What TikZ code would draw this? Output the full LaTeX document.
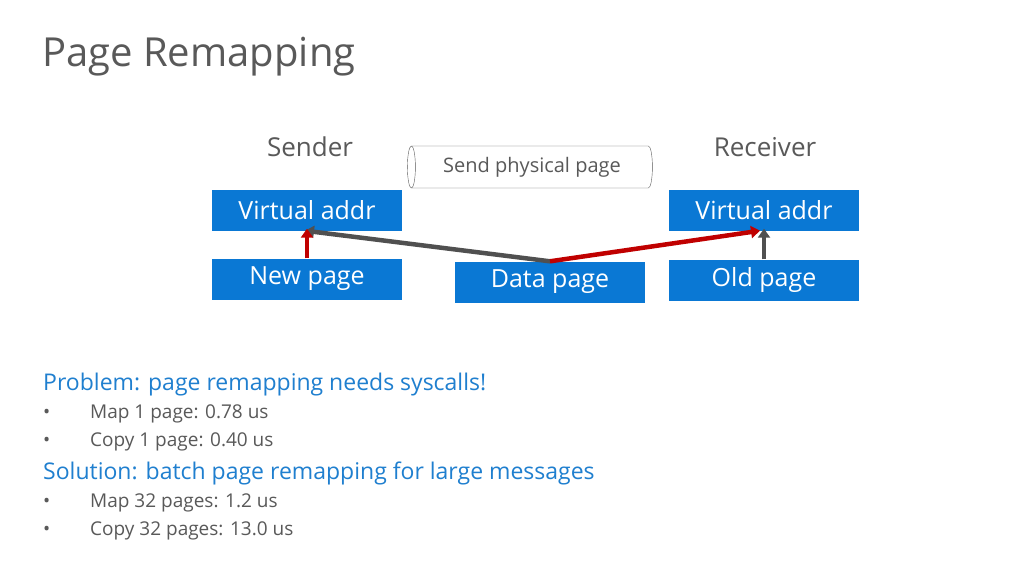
\documentclass[tikz,border=0pt]{standalone}
\usepackage{fontspec}
\setmainfont{Open Sans}
\usetikzlibrary{shapes.geometric,arrows.meta}
\definecolor{boxblue}{HTML}{0A78D4}
\definecolor{txtgray}{HTML}{595959}
\definecolor{arrgray}{HTML}{505050}
\definecolor{arrred}{HTML}{C00000}
\definecolor{hdblue}{HTML}{1F7FCF}
\begin{document}
\begin{tikzpicture}[x=1pt,y=-1pt,
  bbox/.style={fill=boxblue,text=white,minimum width=190pt,minimum height=41pt,inner sep=0pt,font=\fontsize{25}{28}\selectfont},
  arr/.style={line width=4.5pt,-{Triangle[length=9pt,width=12pt]}},
  hd/.style={anchor=west,text=hdblue,font=\fontsize{23}{26}\selectfont,inner sep=0pt},
  bl/.style={anchor=west,text=txtgray,font=\fontsize{19}{22}\selectfont,inner sep=0pt}]
\useasboundingbox[fill=white] (0,0) rectangle (1024,576);
\node[anchor=west,text=txtgray,font=\fontsize{40}{44}\selectfont,inner sep=0pt] (title) at (42,57) {Page Remapping};
\node[text=txtgray,font=\fontsize{26}{30}\selectfont] (snd) at (310,147) {Sender};
\node[text=txtgray,font=\fontsize{26}{30}\selectfont] (rcv) at (765,147) {Receiver};
\node[cylinder,shape border rotate=180,draw=txtgray,minimum width=42pt,minimum height=245pt,aspect=0.4,inner sep=0pt,text=txtgray,font=\fontsize{20}{24}\selectfont] (cyl) at (532,167) {Send physical page};
\node[bbox] (va1) at (307,210) {Virtual addr};
\node[bbox] (np) at (307,279) {New page};
\node[bbox] (dp) at (550,282) {Data page};
\node[bbox] (va2) at (764,210) {Virtual addr};
\node[bbox] (op) at (764,280) {Old page};
\draw[arr,arrgray] (dp.north) -- ([xshift=-2pt]va1.south);
\draw[arr,arrred] (np.north) -- ([yshift=2pt]va1.south);
\draw[arr,arrred] (dp.north) -- ([xshift=-4pt]va2.south);
\draw[arr,arrgray] (op.north) -- ([yshift=2pt]va2.south);
\node[hd] (p1) at (43,385) {Problem: page remapping needs syscalls!};
\node[bl] (b1) at (43,414) {•}; \node[bl] (t1) at (90,414) {Map 1 page: 0.78 us};
\node[bl] (b2) at (43,442) {•}; \node[bl] (t2) at (90,442) {Copy 1 page: 0.40 us};
\node[hd] (p2) at (43,473) {Solution: batch page remapping for large messages};
\node[bl] (b3) at (43,503) {•}; \node[bl] (t3) at (90,503) {Map 32 pages: 1.2 us};
\node[bl] (b4) at (43,531) {•}; \node[bl] (t4) at (90,531) {Copy 32 pages: 13.0 us};
\end{tikzpicture}
\end{document}
